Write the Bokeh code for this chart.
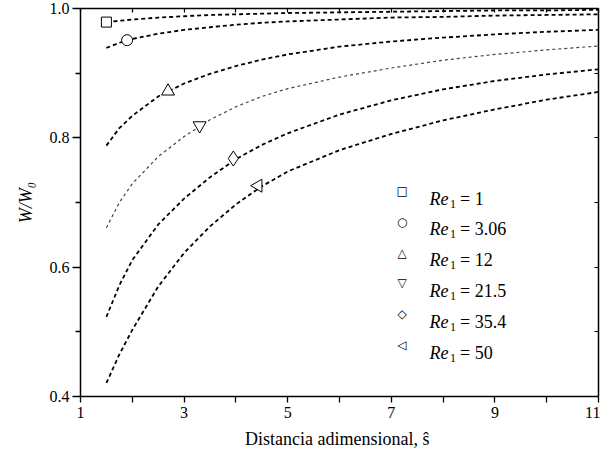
from bokeh.plotting import figure
from bokeh.models import (Range1d, FixedTicker, LinearAxis, Label, NumeralTickFormatter)
from bokeh.embed import file_html
from bokeh.resources import INLINE

# ---- data ----
s_vals = [1.5, 1.75, 2, 2.5, 3, 3.5, 4, 4.5, 5, 6, 7, 8, 9, 10, 11]
w_re1 = [0.979, 0.981, 0.983, 0.986, 0.988, 0.990, 0.991, 0.992, 0.993, 0.994, 0.995, 0.996, 0.997, 0.997, 0.998]
w_re306 = [0.939, 0.947, 0.953, 0.961, 0.967, 0.971, 0.975, 0.978, 0.980, 0.983, 0.986, 0.987, 0.989, 0.990, 0.991]
w_re12 = [0.788, 0.815, 0.834, 0.864, 0.884, 0.899, 0.911, 0.921, 0.929, 0.941, 0.949, 0.955, 0.960, 0.964, 0.967]
w_re215 = [0.661, 0.700, 0.729, 0.771, 0.802, 0.828, 0.848, 0.864, 0.876, 0.894, 0.908, 0.920, 0.929, 0.936, 0.942]
w_re354 = [0.523, 0.572, 0.611, 0.666, 0.706, 0.739, 0.767, 0.789, 0.807, 0.836, 0.858, 0.875, 0.888, 0.898, 0.906]
w_re50 = [0.421, 0.465, 0.503, 0.570, 0.622, 0.663, 0.697, 0.725, 0.748, 0.781, 0.806, 0.827, 0.844, 0.859, 0.871]

marker_s = [1.5, 1.9, 2.69, 3.3, 3.95, 4.43]
marker_w = [0.979, 0.951, 0.872, 0.819, 0.768, 0.726]
re_values = ["1", "3.06", "12", "21.5", "35.4", "50"]
legend_symbols = ["\u25a1", "\u25cb", "\u25b3", "\u25bd", "\u25c7", "\u25c1"]

x_ticks = [1, 3, 5, 7, 9, 11]
x_minor = [2, 4, 6, 8, 10]
y_ticks = [0.4, 0.6, 0.8, 1.0]
y_minor = [0.5, 0.7, 0.9]
x_frame_ticks = [1, 2, 3, 4, 5, 6, 7, 8, 9, 10, 11]
y_frame_ticks = [0.4, 0.5, 0.6, 0.7, 0.8, 0.9, 1.0]

series = [w_re1, w_re306, w_re12, w_re215, w_re354, w_re50]
markers = ["square", "circle", "triangle", "inverted_triangle", "diamond", "triangle"]
angles = [0, 0, 0, 0, 0, 1.5708]
msizes = [10, 11, 13, 13, 15, 13]
line_colors = ["black", "black", "black", "#444444", "black", "black"]
line_widths = [1.8, 1.8, 1.8, 1.2, 1.8, 1.8]
line_dashes = ["4 3", "4 3", "4 3", "3 3", "4 3", "4 3"]

FONT = "Liberation Serif"

p = figure(width=600, height=459, output_backend="svg", toolbar_location=None,
           x_range=Range1d(1, 11), y_range=Range1d(0.4, 1.0),
           min_border_left=80, min_border_right=2, min_border_top=8, min_border_bottom=63,
           x_axis_label="Distancia adimensional,  \u015d", y_axis_label="W/W\u2080")
p.grid.visible = False
p.outline_line_color = None
p.background_fill_color = "white"
p.border_fill_color = "white"

for ax in (p.xaxis[0], p.yaxis[0]):
    ax.axis_line_width = 1.5
    ax.axis_line_color = "black"
    ax.major_tick_line_color = "black"
    ax.minor_tick_line_color = "black"
    ax.major_tick_line_width = 1.3
    ax.minor_tick_line_width = 1.3
    ax.major_tick_in = 0
    ax.minor_tick_in = 0
    ax.major_label_text_font = FONT
    ax.major_label_text_font_size = "16px"
    ax.major_label_text_color = "black"
    ax.axis_label_text_font = FONT
    ax.axis_label_text_font_size = "18px"
    ax.axis_label_text_color = "black"

p.xaxis[0].ticker = FixedTicker(ticks=x_ticks, minor_ticks=x_minor)
p.xaxis[0].major_tick_out = 6
p.xaxis[0].minor_tick_out = 6
p.xaxis[0].major_label_standoff = 4
p.xaxis[0].axis_label_standoff = 8
p.xaxis[0].axis_label_text_font_style = "normal"

p.yaxis[0].ticker = FixedTicker(ticks=y_ticks, minor_ticks=y_minor)
p.yaxis[0].formatter = NumeralTickFormatter(format="0.0")
p.yaxis[0].major_tick_out = 8
p.yaxis[0].minor_tick_out = 5
p.yaxis[0].major_label_standoff = 3
p.yaxis[0].axis_label_standoff = 11
p.yaxis[0].axis_label_text_font_style = "italic"

# frame axes on top and right: only short inward ticks, no labels
top = LinearAxis(ticker=FixedTicker(ticks=[], minor_ticks=x_frame_ticks))
right = LinearAxis(ticker=FixedTicker(ticks=[], minor_ticks=y_frame_ticks))
for ax in (top, right):
    ax.axis_line_width = 1.5
    ax.axis_line_color = "black"
    ax.major_tick_in = 0
    ax.major_tick_out = 0
    ax.minor_tick_in = 4
    ax.minor_tick_out = 0
    ax.minor_tick_line_color = "black"
    ax.minor_tick_line_width = 1.2
    ax.major_label_standoff = 0
    ax.axis_label = None
p.add_layout(top, "above")
p.add_layout(right, "right")

for i, w in enumerate(series):
    p.line(s_vals, w, line_color=line_colors[i], line_width=line_widths[i],
           line_dash=line_dashes[i])
for i in range(len(series)):
    p.scatter([marker_s[i]], [marker_w[i]], marker=markers[i], size=msizes[i],
              angle=angles[i], fill_color="white", line_color="black", line_width=1)

# legend built from text (frame-relative screen units, y upward)
row0 = 205.5
row_step = 30.8
for i in range(len(re_values)):
    yc = row0 - i * row_step
    ybase = yc - 7.5
    p.add_layout(Label(x=321.7, y=yc, x_units="screen", y_units="screen",
                       text=legend_symbols[i], text_font="DejaVu Sans",
                       text_font_size="12px", text_align="center",
                       text_baseline="middle", text_color="black"))
    p.add_layout(Label(x=349, y=ybase, x_units="screen", y_units="screen",
                       text="Re", text_font=FONT, text_font_style="italic",
                       text_font_size="18px", text_baseline="alphabetic",
                       text_color="black"))
    p.add_layout(Label(x=369.5, y=ybase - 5, x_units="screen", y_units="screen",
                       text="1", text_font=FONT, text_font_size="12px",
                       text_baseline="alphabetic", text_color="black"))
    p.add_layout(Label(x=379.5, y=ybase, x_units="screen", y_units="screen",
                       text="= " + re_values[i], text_font=FONT,
                       text_font_size="18px", text_baseline="alphabetic",
                       text_color="black"))

open("out.html", "w").write(file_html(p, INLINE))
